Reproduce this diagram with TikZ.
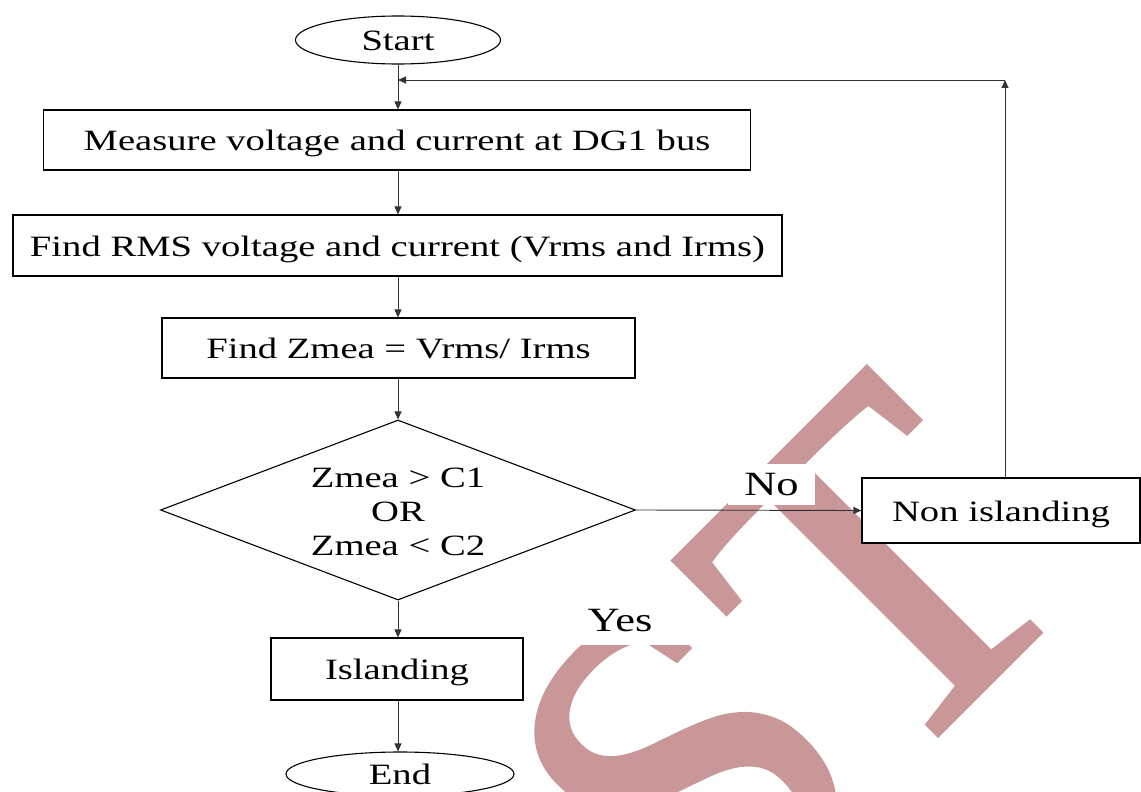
\documentclass[tikz,border=0pt]{standalone}
\usepackage{fontspec}
\setmainfont{Liberation Serif}[FakeStretch=1.31]
\newfontfamily\wmfont{Liberation Serif}[FakeBold=1.5]
\usetikzlibrary{shapes.geometric,arrows.meta}
\definecolor{wm}{RGB}{201,151,151}
\begin{document}
\begin{tikzpicture}[x=1pt,y=-1pt,
  font=\fontsize{29.5}{34}\selectfont,
  box/.style={draw=black,line width=1.2pt,fill=white,inner sep=0pt,text height=21pt,text depth=0pt},
  term/.style={ellipse,draw=black,line width=1.1pt,fill=white,inner sep=0pt,text height=21pt,text depth=0pt},
  conn/.style={draw=black!80,line width=0.9pt,-{Triangle[length=8pt,width=7pt]}},
  lbl/.style={fill=white,inner sep=0pt,font=\fontsize{34}{38}\selectfont}]
\useasboundingbox (0,0) rectangle (1141,792);
% watermark
\node[rotate=45,anchor=base west,inner sep=0pt,text=wm,
      font=\wmfont\fontsize{470}{470}\selectfont] (wmark) at (702,969) {ST};
% nodes
\node[term,minimum width=205,minimum height=48] (start) at (398,40) {Start};
\node[box,minimum width=707,minimum height=60] (b1) at (397,140) {Measure voltage and current at DG1 bus};
\node[box,minimum width=769,minimum height=61] (b2) at (397.5,245.5) {Find RMS voltage and current (Vrms and Irms)};
\node[box,minimum width=473,minimum height=60] (b3) at (398.5,348) {Find Zmea = Vrms/ Irms};
\node[diamond,draw=black,line width=1.1pt,fill=white,aspect=2.64,
      minimum width=475,minimum height=180,inner sep=0pt,align=center] (dec) at (398,510)
      {\strut Zmea > C1\\OR\\Zmea < C2};
\node[box,minimum width=278,minimum height=65] (non) at (1001,510.5) {Non islanding};
\node[box,minimum width=252,minimum height=62] (isl) at (397,669) {Islanding};
\node[term,minimum width=228,minimum height=44] (end) at (400,774) {End};
\node[lbl,minimum width=87,minimum height=41] (no) at (771.5,484.5) {No};
\node[lbl,minimum width=140,minimum height=48] (yes) at (620,621) {Yes};
% connectors
\coordinate (fb) at (1005,80);
\draw[conn] (start.south) -- (start.south |- b1.north);
\draw[conn] (start.south |- b1.south) -- (start.south |- b2.north);
\draw[conn] (start.south |- b2.south) -- (start.south |- b3.north);
\draw[conn] (start.south |- b3.south) -- (dec.north);
\draw[conn] (dec.east) -- (non.west);
\draw[conn] (dec.south) -- (dec.south |- isl.north);
\draw[conn] (dec.south |- isl.south) -- (dec.south |- end.north);
\draw[conn] (non.north -| fb) -- (fb);
\draw[conn] (fb) -- (fb -| start.south);
\end{tikzpicture}
\end{document}
